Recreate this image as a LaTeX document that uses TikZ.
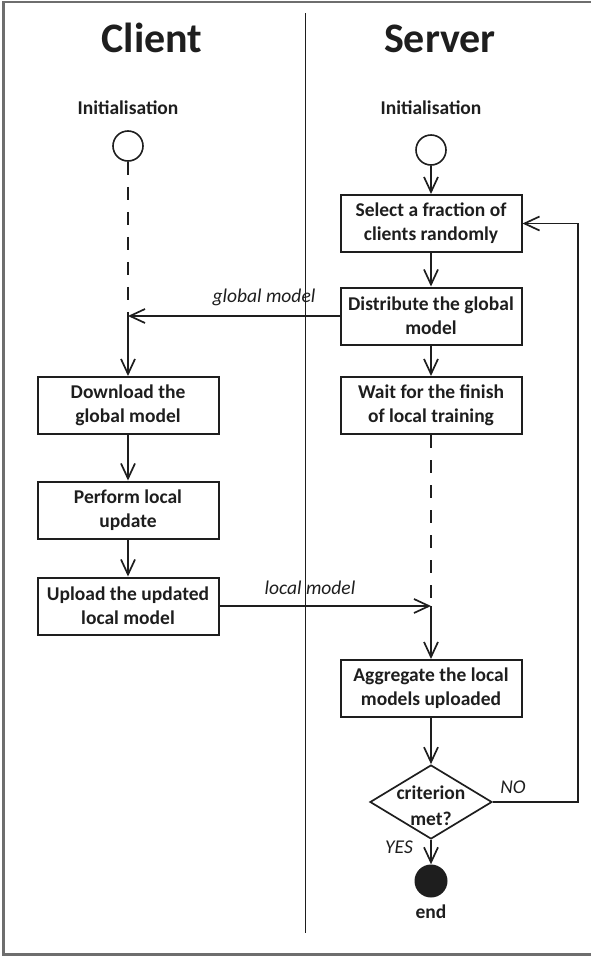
\documentclass[tikz,border=0pt]{standalone}
\usepackage{fontspec}
\setmainfont{Carlito}
\usetikzlibrary{arrows.meta,shapes.geometric}
\definecolor{ink}{HTML}{1E1E1E}
\definecolor{framegray}{HTML}{6E6E6E}
\begin{document}
\begin{tikzpicture}[x=1pt,y=-1pt,
  box/.style={draw=ink, line width=2pt, minimum width=181pt, minimum height=57pt,
    inner sep=0pt, align=center, text=ink,
    font=\fontsize{19.5}{24}\selectfont\bfseries},
  flow/.style={draw=ink, line width=1.7pt, -{Straight Barb[length=15pt,width=14pt]}},
  lifeline/.style={draw=ink, line width=1.7pt, dash pattern=on 13pt off 12pt},
  lbl/.style={text=ink, inner sep=0pt, font=\fontsize{19.5}{24}\selectfont\itshape},
  caption/.style={text=ink, inner sep=0pt, font=\fontsize{19.5}{24}\selectfont\bfseries},
  heading/.style={text=ink, inner sep=0pt, font=\fontsize{42}{48}\selectfont\bfseries},
  startnode/.style={circle, draw=ink, line width=1.6pt, minimum size=30pt, inner sep=0pt},
  endnode/.style={circle, fill=ink, minimum size=33pt, inner sep=0pt}]
\useasboundingbox (0,0) rectangle (590,956);

% outer frame (open on the right, where the page ends)
\draw[framegray, line width=2.5pt] (592,2) -- (3.5,2) -- (3.5,954.5) -- (592,954.5);

% swimlane divider
\draw[ink, line width=1pt] (305,13) -- (305,933);

% lane headings
\node[heading, anchor=base] (hClient) at (152,52) {Client};
\node[heading, anchor=base] (hServer) at (440,52) {Server};

% client lane
\node[caption] (cInit) at (128,108) {Initialisation};
\node[startnode] (cStart) at (128,146) {};
\coordinate (gJoin) at (128,316);
\node[box] (download) at (128,405.5) {Download the\\global model};
\node[box] (perform) at (128,510) {Perform local\\update};
\node[box] (upload) at (128,606) {Upload the updated\\local model};

% server lane
\node[caption] (sInit) at (431,108) {Initialisation};
\node[startnode] (sStart) at (431,150) {};
\node[box] (select) at (431,223.5) {Select a fraction of\\clients randomly};
\node[box] (distribute) at (431,316) {Distribute the global\\model};
\node[box] (wait) at (431,405.5) {Wait for the finish\\of local training};
\coordinate (lJoin) at (431,606);
\node[box] (aggregate) at (431,688.5) {Aggregate the local\\models uploaded};
\node[diamond, draw=ink, line width=1.7pt, minimum width=122pt, minimum height=74pt,
  inner sep=0pt] (crit) at (431,802) {};
\node[caption, align=center, font=\fontsize{19.5}{26}\selectfont\bfseries] (critText)
  at (431,806) {criterion\\met?};
\node[endnode] (finish) at (431,881) {};
\node[caption] (endText) at (431,912) {end};
\coordinate (loopTop) at (578,223.5);

% client flow
\draw[lifeline] (cStart) -- (gJoin);
\draw[flow] (gJoin) -- (download);
\draw[flow] (download) -- (perform);
\draw[flow] (perform) -- (upload);

% server flow
\draw[flow] (sStart) -- (select);
\draw[flow] (select) -- (distribute);
\draw[flow] (distribute) -- (wait);
\draw[lifeline] (wait) -- (lJoin);
\draw[flow] (lJoin) -- (aggregate);
\draw[flow] (aggregate) -- (crit);
\draw[flow] (crit) -- (finish);
\draw[flow] (crit.east) -| (loopTop) -- (select.east);

% messages between the lanes
\draw[flow] (distribute.west) -- (gJoin);
\draw[flow] (upload.east) -- (lJoin);
\node[lbl, anchor=base] (gLbl) at (264,302) {global model};
\node[lbl, anchor=base] (lLbl) at (310,594) {local model};
\node[lbl] (noLbl) at (513,787) {NO};
\node[lbl] (yesLbl) at (399,847) {YES};
\end{tikzpicture}
\end{document}
